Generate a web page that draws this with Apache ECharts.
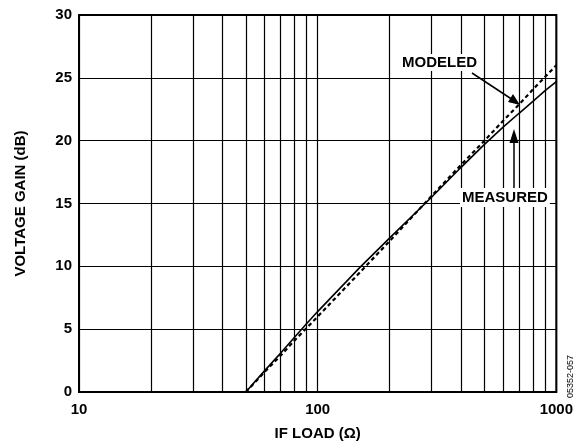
<!DOCTYPE html>
<html>
<head>
<meta charset="utf-8">
<script src="https://cdn.jsdelivr.net/npm/echarts@6/dist/echarts.min.js"></script>
<style>html,body{margin:0;padding:0;background:#fff}#c{width:576px;height:446px}</style>
</head>
<body>
<div id="c"></div>
<script>
// IF load (ohms)
const loadOhms = [50, 60, 70, 80, 90, 100, 150, 200, 300, 400, 500, 600, 700, 800, 900, 1000];
// Measured voltage gain (dB)
const measuredGain = [0, 1.7, 3.1, 4.35, 5.45, 6.4, 9.9, 12.25, 15.5, 17.9, 19.7, 21.1, 22.2, 23.15, 24.0, 24.7];
// Modeled voltage gain (dB)
const modeledGain = [0, 1.6, 2.9, 4.1, 5.1, 6.0, 9.5, 12.0, 15.6, 18.1, 20.0, 21.6, 22.9, 24.1, 25.1, 26.0];
// minor vertical grid positions (log decade subdivisions)
const minorGridX = [20, 30, 40, 50, 60, 70, 80, 90, 200, 300, 400, 500, 600, 700, 800, 900];

const FONT = "'Liberation Sans', Arial, sans-serif";
const BOLD15 = "bold 15px 'Liberation Sans', Arial, sans-serif";
const chart = echarts.init(document.getElementById('c'), null, {renderer: 'canvas'});

chart.setOption({
  animation: false,
  backgroundColor: '#fff',
  grid: {left: 79, right: 16, top: 15, bottom: 47, show: true, borderColor: '#000', borderWidth: 2, backgroundColor: 'transparent'},
  xAxis: {
    type: 'log', logBase: 10, min: 10, max: 1000,
    name: 'IF LOAD (Ω)', nameLocation: 'middle', nameGap: 34,
    nameTextStyle: {fontFamily: FONT, fontWeight: 'bold', fontSize: 15, color: '#000'},
    axisLine: {show: false}, axisTick: {show: false},
    axisLabel: {fontFamily: FONT, fontWeight: 'bold', fontSize: 15, color: '#000', margin: 10,
                formatter: v => String(Math.round(v))},
    splitLine: {show: true, lineStyle: {color: '#000', width: 1.2}}
  },
  yAxis: {
    type: 'value', min: 0, max: 30, interval: 5,
    name: 'VOLTAGE GAIN (dB)', nameLocation: 'middle', nameGap: 51,
    nameTextStyle: {fontFamily: FONT, fontWeight: 'bold', fontSize: 15, color: '#000'},
    axisLine: {show: false}, axisTick: {show: false},
    axisLabel: {fontFamily: FONT, fontWeight: 'bold', fontSize: 15, color: '#000', margin: 7},
    splitLine: {show: true, lineStyle: {color: '#000', width: 1.2}}
  },
  series: [
    {
      name: 'grid', type: 'line', data: [], silent: true,
      markLine: {
        silent: true, symbol: ['none', 'none'], label: {show: false},
        lineStyle: {color: '#000', width: 1.2, type: 'solid'},
        data: minorGridX.map(v => ({xAxis: v}))
      }
    },
    {
      name: 'MEASURED', type: 'line', showSymbol: false,
      data: loadOhms.map((x, i) => [x, measuredGain[i]]),
      lineStyle: {color: '#000', width: 1.6, type: 'solid'}, z: 5
    },
    {
      name: 'MODELED', type: 'line', showSymbol: false,
      data: loadOhms.map((x, i) => [x, modeledGain[i]]),
      lineStyle: {color: '#000', width: 2.2, type: [4, 3]}, z: 5
    }
  ],
  graphic: [
    {type: 'text', left: 401, top: 54, z: 20,
     style: {text: 'MODELED', font: BOLD15, fill: '#000', backgroundColor: '#fff', padding: [1, 1]}},
    {type: 'line', z: 20, shape: {x1: 472, y1: 73, x2: 513, y2: 100}, style: {stroke: '#000', lineWidth: 1.5}},
    {type: 'polygon', z: 20, shape: {points: [[520, 105], [508, 102], [513, 94]]}, style: {fill: '#000'}},
    {type: 'text', left: 460, top: 188, z: 20,
     style: {text: 'MEASURED', font: BOLD15, fill: '#000', backgroundColor: '#fff', padding: [2, 2]}},
    {type: 'line', z: 20, shape: {x1: 514, y1: 188, x2: 514, y2: 140}, style: {stroke: '#000', lineWidth: 1.5}},
    {type: 'polygon', z: 20, shape: {points: [[514, 129], [509.5, 143], [518.5, 143]]}, style: {fill: '#000'}},
    {type: 'text', x: 566, y: 398, rotation: Math.PI / 2, z: 20,
     style: {text: '05352-057', font: "9px 'Liberation Sans', Arial, sans-serif", fill: '#000', textAlign: 'left', textVerticalAlign: 'top'}}
  ]
});
</script>
</body>
</html>
